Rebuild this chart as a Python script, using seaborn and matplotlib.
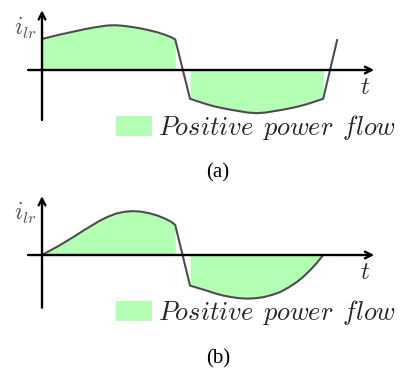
import pandas as pd
import matplotlib
matplotlib.use("Agg")
import matplotlib.pyplot as plt
import seaborn as sns

# phase in degrees, current in per-unit
phase_a_pos = [0, 10, 20, 30, 40, 50, 60, 70, 80, 90, 100, 110, 120, 130, 140, 150, 157, 162]
i_a_pos = [0.69, 0.735, 0.78, 0.82, 0.86, 0.90, 0.935, 0.965, 0.99, 0.995, 0.98, 0.955,
           0.925, 0.885, 0.84, 0.78, 0.73, 0.68]
phase_a_neg = [180, 190, 200, 210, 220, 230, 240, 250, 261, 272, 282, 292, 302, 312, 322, 332, 342]
i_a_neg = [-0.64, -0.70, -0.76, -0.81, -0.85, -0.885, -0.915, -0.945, -0.96, -0.945, -0.915,
           -0.885, -0.85, -0.81, -0.76, -0.70, -0.64]
phase_a_end = [359]
i_a_end = [0.67]

phase_b_pos = [0, 10, 20, 30, 40, 50, 60, 70, 80, 90, 100, 110, 120, 130, 140, 150, 157, 162]
i_b_pos = [0.0, 0.10, 0.20, 0.31, 0.42, 0.54, 0.65, 0.76, 0.85, 0.92, 0.96, 0.975, 0.965,
           0.93, 0.88, 0.805, 0.74, 0.67]
phase_b_neg = [180, 190, 200, 210, 220, 230, 240, 250, 260, 270, 280, 290, 300, 310, 318, 326, 334, 342]
i_b_neg = [-0.68, -0.735, -0.79, -0.85, -0.90, -0.935, -0.96, -0.97, -0.96, -0.935, -0.885,
           -0.82, -0.72, -0.60, -0.48, -0.34, -0.18, 0.0]

legend_label = r"$Positive\;\,power\;\,flow$"
captions = ["(a)", "(b)"]

fill_color = "#b3ffb3"
line_color = "#4d4d4d"

sns.set_theme(style="white")
plt.rcParams["mathtext.fontset"] = "cm"

fig = plt.figure(figsize=(4.01, 3.72), dpi=100)
H = 372.0
ax_a = fig.add_axes([0, 1 - 150 / H, 1, 150 / H])
ax_b = fig.add_axes([0, 1 - 335 / H, 1, 150 / H])

panels = [
    (ax_a, phase_a_pos, i_a_pos, phase_a_neg, i_a_neg, phase_a_end, i_a_end, (-1.11, 1.33)),
    (ax_b, phase_b_pos, i_b_pos, phase_b_neg, i_b_neg, [], [], (-1.17, 1.31)),
]

for ax, px, py, nx, ny, ex, ey, yext in panels:
    df = pd.DataFrame({"phase": px + nx + ex, "i": py + ny + ey})
    ax.fill_between(px, py, 0, color=fill_color, linewidth=0, label=legend_label)
    ax.fill_between(nx, ny, 0, color=fill_color, linewidth=0)
    sns.lineplot(data=df, x="phase", y="i", ax=ax, color=line_color,
                 linewidth=1.5, sort=False, estimator=None)
    # axes with arrow heads
    ax.annotate("", xy=(404, 0), xytext=(-17, 0),
                arrowprops=dict(arrowstyle="->", lw=1.7, color="black",
                                shrinkA=0, shrinkB=0, mutation_scale=12))
    ax.annotate("", xy=(0, yext[1]), xytext=(0, yext[0]),
                arrowprops=dict(arrowstyle="->", lw=1.7, color="black",
                                shrinkA=0, shrinkB=0, mutation_scale=12))
    ax.set_xlim(-51.1, 436.6)
    ax.set_ylim(-1.778, 1.556)
    ax.set_axis_off()
    ax.text(-21, 0.92, r"$i_{lr}$", fontsize=17, color="#505050",
            ha="center", va="center")
    ax.text(393, -0.38, r"$t$", fontsize=18, color="#303030",
            ha="center", va="center")

for ax, top in [(ax_a, 113), (ax_b, 298)]:
    ax.legend(loc="upper left", bbox_to_anchor=(116 / 401, 1 - top / H),
              bbox_transform=fig.transFigure, frameon=False, fontsize=19,
              handlelength=1.36, handleheight=0.8, handletextpad=0.25,
              borderpad=0, borderaxespad=0)

for cap, y in zip(captions, [173, 359]):
    fig.text(218 / 401, 1 - y / H, cap, ha="center", va="center",
             fontsize=15, family="Liberation Serif", color="black")

fig.savefig("out.png", dpi=100)
